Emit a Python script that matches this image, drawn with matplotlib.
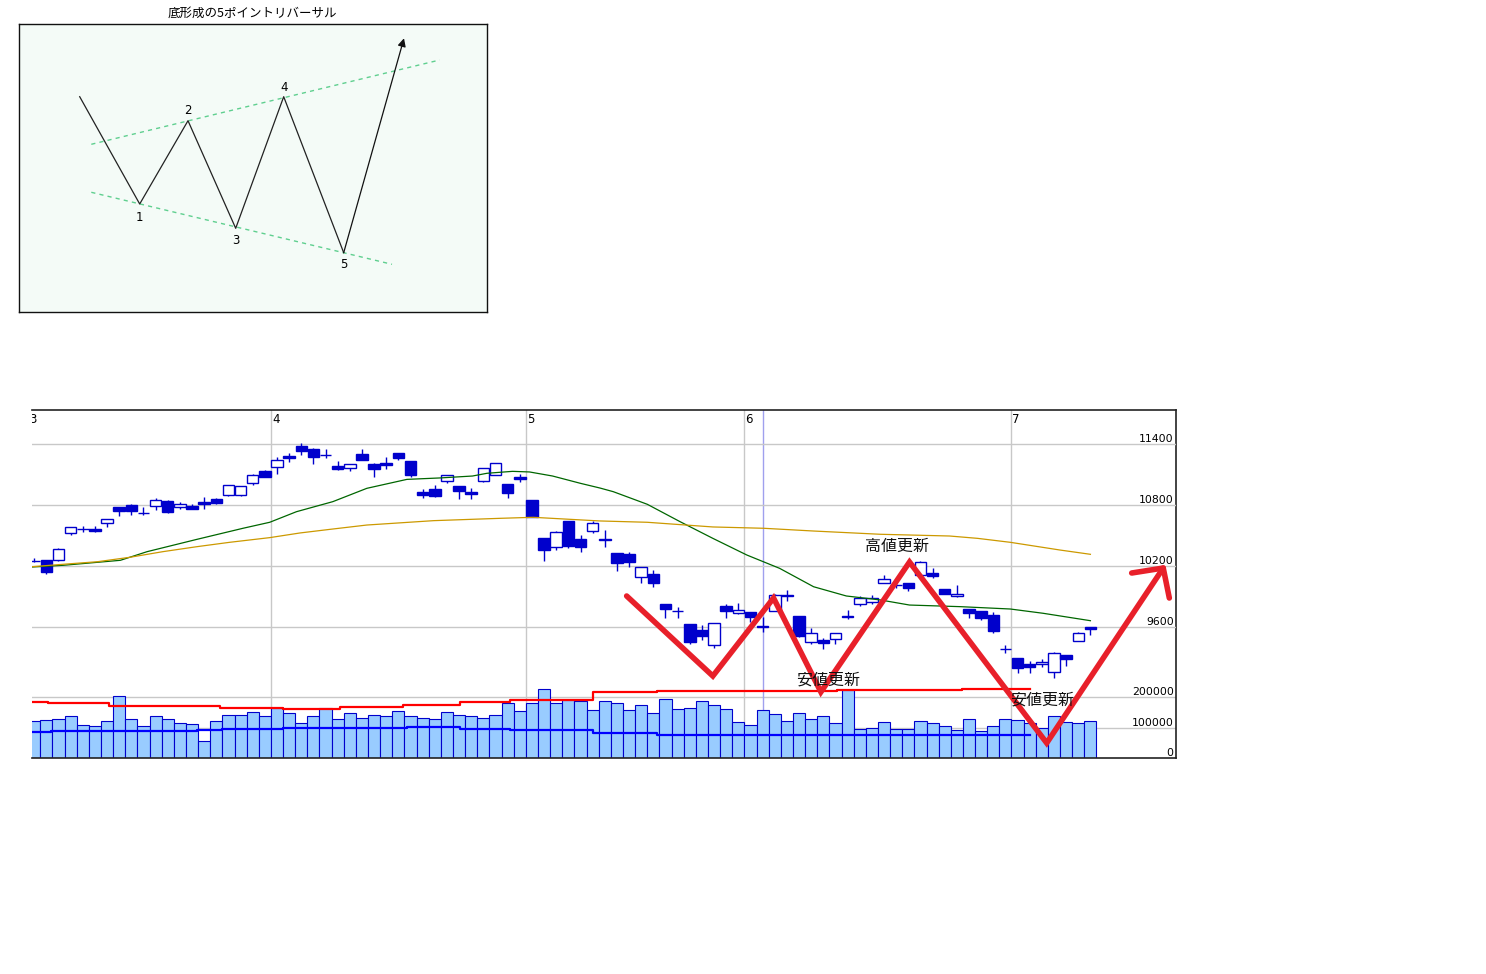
import numpy as np
import matplotlib
matplotlib.use('Agg')
import matplotlib.pyplot as plt
from matplotlib import transforms

plt.rcParams['font.family'] = ['Noto Sans CJK JP', 'DejaVu Sans']

W, H = 1486, 974

# daily candles (bar index 0 .. 87)
opens = [10252, 10259, 10256, 10528, 10563, 10564, 10626, 10777, 10800, 10720,
         10787, 10839, 10784, 10790, 10826, 10859, 10895, 10902, 11019, 11131,
         11171, 11285, 11380, 11351, 11291, 11184, 11167, 11302, 11200, 11213,
         11311, 11233, 10925, 10957, 11039, 10987, 10925, 11033, 11098, 11007,
         11072, 10849, 10475, 10390, 10643, 10466, 10541, 10461, 10325, 10318,
         10089, 10121, 9823, 9757, 9630, 9570, 9420, 9807, 9734, 9744,
         9605, 9757, 9910, 9708, 9449, 9472, 9479, 9704, 9823, 9843,
         10036, 10016, 10030, 10111, 10128, 9971, 9902, 9777, 9757, 9718,
         9383, 9292, 9236, 9233, 9154, 9324, 9462, 9597]
highs = [10276, 10262, 10380, 10585, 10596, 10593, 10662, 10780, 10810, 10777,
         10869, 10849, 10826, 10813, 10879, 10869, 10996, 10989, 11105, 11141,
         11269, 11308, 11407, 11364, 11354, 11233, 11202, 11351, 11213, 11272,
         11313, 11235, 10957, 10997, 11094, 10989, 10967, 11166, 11212, 11009,
         11102, 10851, 10477, 10547, 10645, 10505, 10640, 10554, 10327, 10341,
         10190, 10161, 9828, 9794, 9628, 9620, 9638, 9826, 9833, 9746,
         9701, 9925, 9964, 9710, 9587, 9489, 9540, 9767, 9905, 9915,
         10111, 10030, 10032, 10249, 10177, 9973, 10013, 9779, 9759, 9751,
         9423, 9294, 9269, 9285, 9357, 9326, 9554, 9600]
lows = [10242, 10124, 10250, 10505, 10537, 10537, 10587, 10695, 10702, 10702,
        10754, 10724, 10761, 10762, 10764, 10807, 10885, 10892, 11000, 11076,
        11108, 11226, 11295, 11203, 11259, 11147, 11137, 11240, 11078, 11154,
        11243, 11075, 10872, 10879, 11020, 10859, 10859, 11031, 11096, 10872,
        11026, 10680, 10249, 10360, 10380, 10341, 10525, 10390, 10154, 10193,
        10036, 9997, 9691, 9691, 9430, 9475, 9390, 9691, 9732, 9652,
        9554, 9755, 9859, 9498, 9430, 9381, 9436, 9676, 9810, 9823,
        10034, 9985, 9958, 10109, 10085, 9920, 9900, 9691, 9669, 9544,
        9341, 9145, 9145, 9210, 9095, 9219, 9460, 9521]
closes = [10249, 10144, 10367, 10581, 10561, 10544, 10659, 10744, 10744, 10718,
          10846, 10734, 10813, 10764, 10810, 10823, 10994, 10987, 11095, 11078,
          11240, 11266, 11334, 11275, 11289, 11157, 11200, 11243, 11154, 11193,
          11266, 11095, 10898, 10892, 11092, 10941, 10908, 11164, 11210, 10921,
          11056, 10682, 10360, 10534, 10397, 10390, 10623, 10456, 10233, 10236,
          10187, 10029, 9777, 9755, 9455, 9515, 9636, 9761, 9767, 9701,
          9603, 9912, 9906, 9515, 9538, 9439, 9538, 9702, 9882, 9882,
          10072, 10013, 9987, 10236, 10105, 9922, 9922, 9735, 9692, 9564,
          9381, 9194, 9204, 9259, 9341, 9282, 9541, 9584]
volumes_k = [121, 127, 130, 140, 110, 104, 123, 206, 130, 107,
             137, 130, 117, 113, 57, 123, 143, 143, 153, 140,
             166, 150, 117, 137, 166, 130, 147, 133, 143, 140,
             156, 137, 133, 130, 153, 143, 137, 133, 143, 180,
             156, 183, 229, 180, 193, 189, 160, 189, 183, 160,
             176, 150, 196, 163, 166, 189, 176, 163, 120, 110,
             160, 144, 121, 148, 130, 140, 117, 223, 97, 100,
             120, 97, 97, 123, 114, 104, 94, 130, 90, 107,
             130, 127, 117, 100, 137, 120, 117, 123]

month_labels = ['3', '4', '5', '6', '7']
month_first_bar = [0, 20, 41, 59, 81]
cursor_bar = 60
price_ticks = [9600, 10200, 10800, 11400]
volume_ticks = [0, 100000, 200000]

# price moving averages (bar index, value)
ma_short_x = [-0.2, 2.4, 7.1, 9.3, 13.4, 17.2, 19.4, 21.6, 24.6, 27.4, 30.7, 33.4,
              36.1, 37.3, 39.4, 40.8, 42.7, 45.0, 46.6, 47.7, 50.5, 53.2, 55.9,
              58.7, 61.4, 64.2, 66.9, 69.7, 72.1, 76.3, 80.4, 83.1, 87.0]
ma_short = [10190, 10207, 10256, 10341, 10462, 10571, 10630, 10734, 10833, 10964,
            11052, 11066, 11085, 11112, 11131, 11125, 11085, 11013, 10967, 10931,
            10807, 10636, 10472, 10308, 10177, 9996, 9905, 9866, 9816, 9800,
            9777, 9735, 9662]
ma_long_x = [-0.2, 2.4, 5.2, 7.9, 10.6, 13.4, 16.1, 19.4, 21.9, 24.4, 27.4, 32.9,
             38.4, 41.1, 46.6, 50.5, 55.9, 60.1, 64.2, 69.7, 75.4, 77.7, 80.4,
             84.5, 87.0]
ma_long = [10193, 10217, 10242, 10286, 10341, 10390, 10433, 10479, 10525, 10561,
           10603, 10646, 10669, 10679, 10643, 10630, 10584, 10571, 10544, 10512,
           10495, 10472, 10433, 10357, 10315]

# volume moving averages (step lines)
vol_ma_short_x = [-0.2, 1.4, 13.4, 15.5, 20.5, 30.7, 35.1, 39.2, 46.0, 51.3, 61.4, 82.0]
vol_ma_short_k = [86, 89, 92, 96, 99, 101, 96, 92, 84, 76, 75, 75]
vol_ma_long_x = [-0.2, 1.1, 6.2, 15.3, 20.5, 25.2, 30.4, 35.1, 39.2, 46.0, 51.3,
                 66.1, 71.3, 76.4, 82.0]
vol_ma_long_k = [185, 180, 172, 165, 162, 168, 176, 186, 193, 218, 221, 226, 223,
                 227, 227]

# hand-drawn red zigzag (bar index, price)
zigzag_x = [48.8, 55.9, 60.9, 64.8, 72.1, 83.4, 93.0]
zigzag_y = [9905, 9118, 9885, 8961, 10239, 8459, 10180]
arrow_left = (90.4, 10131)
arrow_right = (93.5, 9885)
notes = [('高値更新', 71.1, 10397), ('安値更新', 65.4, 9079), ('安値更新', 83.0, 8882)]

# schematic inset (pixel units of the inset box)
sketch_x = [79.7, 139.7, 188, 235.7, 283.7, 343.7]
sketch_y = [96.7, 204, 120.7, 228.3, 96.7, 252.7]
sketch_tip = (404, 38.3)
upper_line = ([91.3, 439.7], [144.3, 60])
lower_line = ([91.3, 392], [192.3, 264.3])
sketch_labels = ['1', '2', '3', '4', '5']
sketch_label_x = [139.7, 188, 235.7, 283.7, 343.7]
sketch_label_y = [217.3, 110.7, 240, 87.3, 265]

fig = plt.figure(figsize=(W / 100, H / 100), dpi=100)
fig.patch.set_facecolor('white')

# ---- main chart
rect = [32 / W, 1 - 758 / H, 1144 / W, 348 / H]
axv = fig.add_axes(rect)
ax = fig.add_axes(rect, sharex=axv)
ax.patch.set_visible(False)

idx = np.arange(len(opens))
axv.set_xlim(-0.18, 94.05)
axv.set_ylim(0, 348 / 30.3 * 100000)
ax.set_ylim(8311.5, 11734.4)

grid_c = '#c8c8c8'
for v in volume_ticks[1:]:
    axv.axhline(v, color=grid_c, lw=1, zorder=0)
for p in price_ticks:
    ax.axhline(p, color=grid_c, lw=1, zorder=0)
for m in month_first_bar:
    axv.axvline(m - 0.5, color=grid_c, lw=1, zorder=0)
axv.axvline(cursor_bar, color='#a0a0ee', lw=1, zorder=0)

vols = np.array(volumes_k) * 1000
axv.bar(idx, vols, width=1.0, color='#99ccff', edgecolor='#0000cc', linewidth=0.8, zorder=2)
axv.plot(vol_ma_short_x, np.array(vol_ma_short_k) * 1000, drawstyle='steps-post',
         color='#0000ff', lw=1.6, zorder=4)
axv.plot(vol_ma_long_x, np.array(vol_ma_long_k) * 1000, drawstyle='steps-post',
         color='#ff0000', lw=1.6, zorder=4)

o = np.array(opens)
c = np.array(closes)
up = c >= o
ax.vlines(idx, lows, highs, color='#0000cc', lw=1, zorder=2)
ax.bar(idx, np.abs(c - o), bottom=np.minimum(o, c), width=0.95,
       color=np.where(up, 'white', '#0000cc'), edgecolor='#0000cc',
       linewidth=1, zorder=3)

ax.plot(ma_short_x, ma_short, color='#006600', lw=0.9, zorder=4)
ax.plot(ma_long_x, ma_long, color='#cc9900', lw=0.9, zorder=4)

# axis labels drawn inside the plot
tr_p = transforms.blended_transform_factory(ax.transAxes, ax.transData)
for p in price_ticks:
    ax.text(0.998, p, str(p), transform=tr_p, ha='right', va='bottom',
            fontsize=7.8, family='DejaVu Sans', zorder=6)
tr_v = transforms.blended_transform_factory(axv.transAxes, axv.transData)
for v in volume_ticks:
    axv.text(0.998, v, str(v), transform=tr_v, ha='right', va='bottom',
             fontsize=7.8, family='DejaVu Sans', zorder=6)
tr_m = transforms.blended_transform_factory(ax.transData, ax.transAxes)
for lab, m in zip(month_labels, month_first_bar):
    ax.text(m - 0.42, 0.99, lab, transform=tr_m, ha='left', va='top',
            fontsize=8.5, family='DejaVu Sans', clip_on=True, zorder=6)

# red hand-drawn annotation
red = '#e8202a'
ax.plot(zigzag_x, zigzag_y, color=red, lw=4, solid_capstyle='round',
        solid_joinstyle='miter', zorder=7, clip_on=False)
ax.plot([arrow_left[0], zigzag_x[-1], arrow_right[0]],
        [arrow_left[1], zigzag_y[-1], arrow_right[1]],
        color=red, lw=4, solid_capstyle='round', zorder=7, clip_on=False)
for txt, nx, ny in notes:
    ax.text(nx, ny, txt, ha='center', va='center', fontsize=11.5, color='#111111', zorder=8)

for a in (ax, axv):
    a.set_xticks([])
    a.set_yticks([])
for s in ax.spines.values():
    s.set_visible(False)
axv.spines['left'].set_visible(False)
for k in ('top', 'right', 'bottom'):
    axv.spines[k].set_color('#222222')
    axv.spines[k].set_linewidth(1.2)

# ---- schematic inset
axi = fig.add_axes([19 / W, 1 - 312 / H, 468 / W, 288 / H])
axi.set_xlim(19, 487)
axi.set_ylim(312, 24)
axi.set_facecolor('#f4fbf7')
axi.set_xticks([])
axi.set_yticks([])
for s in axi.spines.values():
    s.set_color('#111111')
    s.set_linewidth(1)
axi.plot(*upper_line, color='#5fcf8f', lw=1, ls=(0, (3, 3)))
axi.plot(*lower_line, color='#5fcf8f', lw=1, ls=(0, (3, 3)))
axi.plot(sketch_x, sketch_y, color='#222222', lw=0.9)
axi.annotate('', xy=sketch_tip, xytext=(sketch_x[-1], sketch_y[-1]),
             arrowprops=dict(arrowstyle='-|>', color='#111111', lw=0.9,
                             mutation_scale=12, shrinkA=0, shrinkB=0))
for lab, lx, ly in zip(sketch_labels, sketch_label_x, sketch_label_y):
    axi.text(lx, ly, lab, ha='center', va='center', fontsize=8.5, family='DejaVu Sans')
fig.text(252 / W, 1 - 13 / H, '底形成の5ポイントリバーサル', ha='center', va='center', fontsize=9)

fig.savefig('out.png', dpi=100)
